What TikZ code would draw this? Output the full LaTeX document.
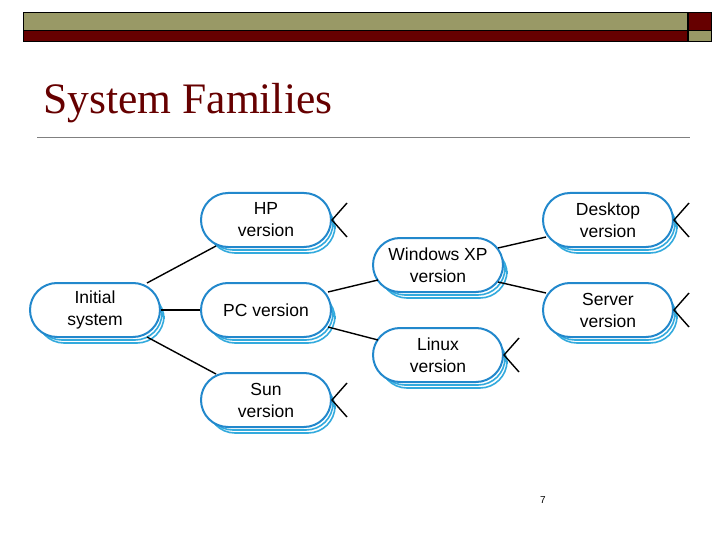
\documentclass[tikz,border=0pt]{standalone}
\usepackage{fontspec}
\setmainfont{Liberation Serif}
\newfontfamily\sansf{Liberation Sans}
\begin{document}
\begin{tikzpicture}[x=1pt,y=-1pt,
  pill/.style={draw=bord, line width=2pt, fill=white, rounded corners=27pt, minimum width=130pt, minimum height=54pt, align=center, inner sep=1pt, font=\sansf\fontsize{17.5}{22}\selectfont},
  shad/.style={draw=shd, line width=1.6pt, rounded corners=27pt},
  conn/.style={line width=1.4pt, black}]
\definecolor{olive}{HTML}{999966}
\definecolor{dred}{HTML}{660000}
\definecolor{bord}{HTML}{2288CC}
\definecolor{shd}{HTML}{33AADD}
\useasboundingbox (0,0) rectangle (720,540);
\fill[olive,draw=black] (23,12) rectangle (687,30);
\fill[dred,draw=black] (23,30) rectangle (687,41);
\fill[dred,draw=black] (688,12) rectangle (711,30);
\fill[olive,draw=black] (688,30) rectangle (711,41);
\node[anchor=west, text=dred, font=\fontsize{43.5}{48}\selectfont] (title) at (40,103) {System Families};
\draw[gray, line width=0.8pt] (37,137) -- (690,137);
\node[font=\sansf\fontsize{10}{11}\selectfont] (pg) at (543,500) {7};
\foreach \n/\x/\y/\t in {hp/266/220/{HP\\version}, ini/95/310/{Initial\\system}, pc/266/310/{PC version}, sun/266/400/{Sun\\version}, win/438/265/{Windows XP\\version}, lin/438/355/{Linux\\version}, desk/608/220/{Desktop\\version}, serv/608/310/{Server\\version}}{
  \draw[shad] (\x-58,\y-18) rectangle (\x+69,\y+33);
  \draw[shad] (\x-60,\y-20) rectangle (\x+67,\y+30);
  \node[pill] (\n) at (\x,\y) {\t};
}
\foreach \n in {hp,sun,lin,desk,serv}{
  \coordinate (u\n) at ([shift={(15,-17)}]\n.east);
  \coordinate (d\n) at ([shift={(15,17)}]\n.east);
  \draw[conn] (u\n) -- (\n.east) -- (d\n);
}
\draw[conn] (ini.north east) ++(-14,1) coordinate (a1) (hp.south west) ++(16,-2) coordinate (b1);
\draw[conn] (a1) -- (b1);
\draw[conn] (ini.east) -- (pc.west);
\draw[conn] (ini.south east) ++(-14,-1) coordinate (a2) (sun.north west) ++(16,2) coordinate (b2);
\draw[conn] (a2) -- (b2);
\draw[conn] (pc.east) ++(-4,-18) coordinate (a3) (win.west) ++(6,15) coordinate (b3);
\draw[conn] (a3) -- (b3);
\draw[conn] (pc.east) ++(-4,17) coordinate (a4) (lin.west) ++(6,-15) coordinate (b4);
\draw[conn] (a4) -- (b4);
\draw[conn] (win.east) ++(-6,-17) coordinate (a5) (desk.west) ++(4,17) coordinate (b5);
\draw[conn] (a5) -- (b5);
\draw[conn] (win.east) ++(-6,17) coordinate (a6) (serv.west) ++(4,-17) coordinate (b6);
\draw[conn] (a6) -- (b6);
\end{tikzpicture}
\end{document}
